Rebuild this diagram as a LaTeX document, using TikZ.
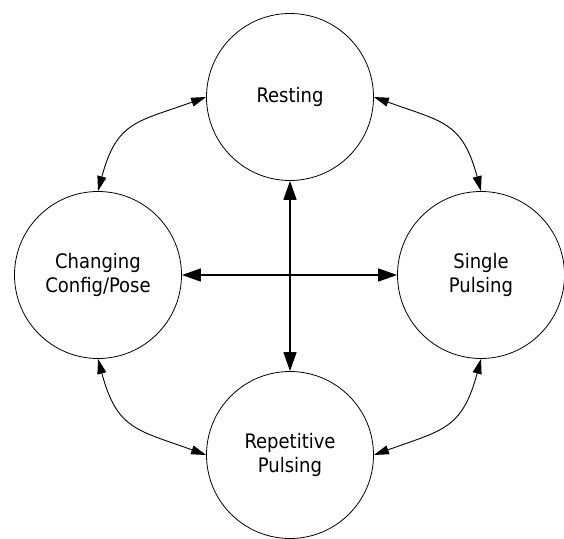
\documentclass[tikz,border=0pt]{standalone}
\usepackage{fontspec}
\newfontfamily\statefont{DejaVu Sans Condensed}
\usetikzlibrary{arrows.meta}

\begin{document}
\begin{tikzpicture}[x=1pt, y=1pt,
	state/.style={draw, circle, line width=0.8pt, minimum size=167pt, inner sep=0pt,
		align=center, font=\statefont\fontsize{20}{24}\selectfont},
	link/.style={{Triangle[length=15pt,width=9pt]}-{Triangle[length=15pt,width=9pt]}, line width=0.9pt, looseness=1.3},
	cross/.style={{Triangle[length=19pt,width=13pt]}-{Triangle[length=19pt,width=13pt]}, line width=1.6pt}]

	\useasboundingbox (0,0) rectangle (564,538);

	% draw states
	\node[state] (rest) at (290,441) {Resting};
	\node[state] (change) at (98,263) {Changing\\Config/Pose};
	\node[state] (single) at (481,263) {Single\\Pulsing};
	\node[state] (repet) at (290,83) {Repetitive\\Pulsing};

	% draw straight edges
	\draw[cross] (rest) -- (repet);
	\draw[cross] (change) -- (single);

	% draw curved edges
	\draw[link] (change.north) to[out=75, in=200] (rest.west);
	\draw[link] (single.north) to[out=105, in=-20] (rest.east);
	\draw[link] (change.south) to[out=-75, in=160] (repet.west);
	\draw[link] (single.south) to[out=-105, in=20] (repet.east);

\end{tikzpicture}
\end{document}
